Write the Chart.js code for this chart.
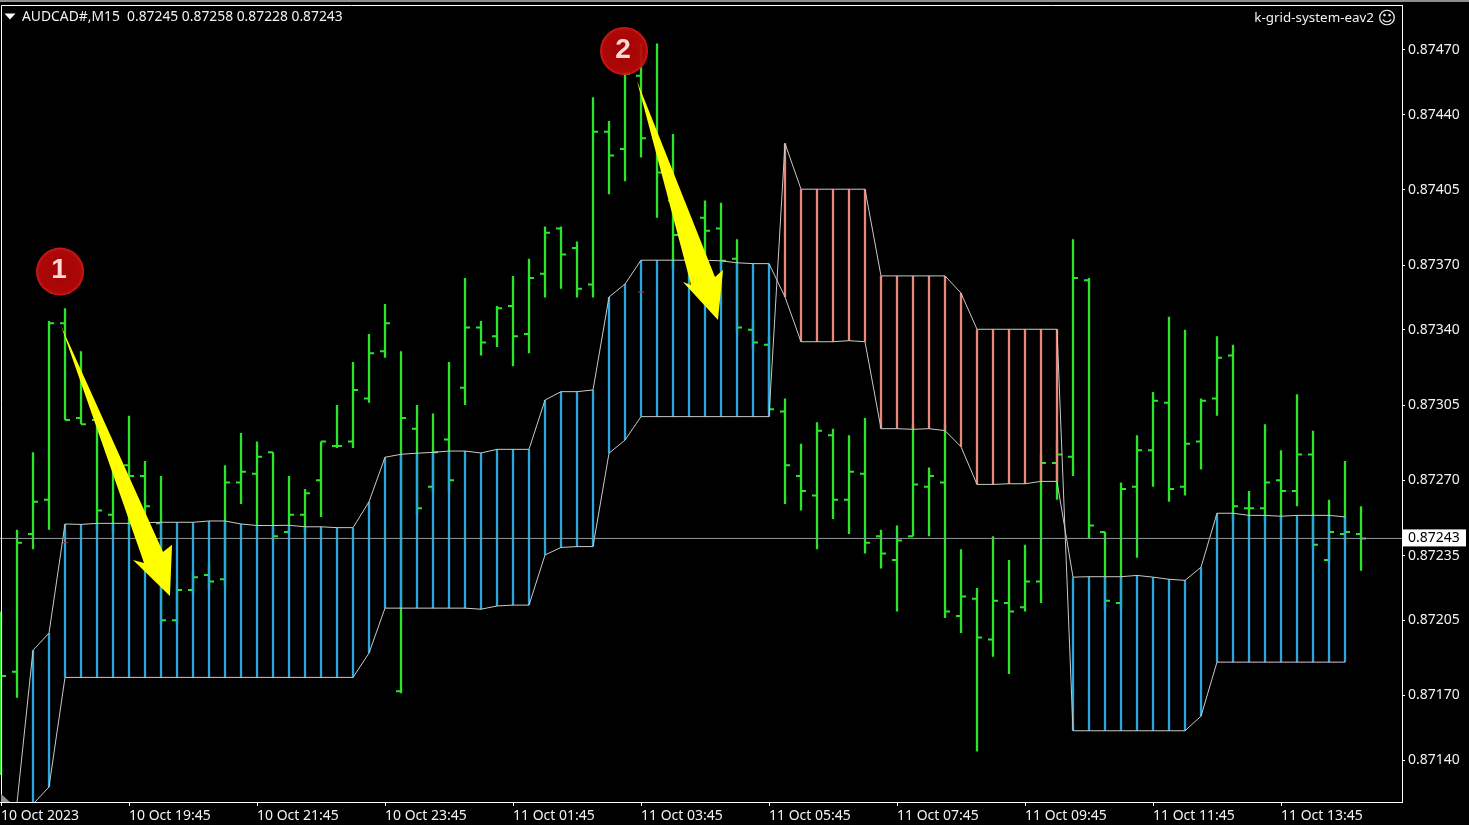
<!DOCTYPE html>
<html>
<head>
<meta charset="utf-8">
<title>AUDCAD#,M15</title>
<script src="https://cdn.jsdelivr.net/npm/chart.js@4/dist/chart.umd.js"></script>
<style>
  html, body { margin: 0; padding: 0; background: #000; overflow: hidden; }
  canvas { display: block; }
</style>
</head>
<body>
<canvas id="chart" width="1469" height="825"></canvas>
<script>
// OHLC of the 86 M15 bars, left to right
const opens = [
  0.87196,0.87181,0.87245,0.87261,0.87343,0.87299,0.87298,0.87254,0.87277,0.87272,
  0.87250,0.87205,0.87219,0.87226,0.87224,0.87269,0.87273,0.87283,0.87246,0.87254,
  0.87270,0.87286,0.87288,0.87308,0.87330,0.87172,0.87294,0.87267,0.87289,0.87313,
  0.87341,0.87337,0.87351,0.87338,0.87366,0.87387,0.87378,0.87361,0.87432,0.87424,
  0.87458,0.87429,0.87400,0.87379,0.87392,0.87387,0.87373,0.87340,0.87333,0.87302,
  0.87272,0.87263,0.87291,0.87261,0.87273,0.87244,0.87233,0.87244,0.87267,0.87269,
  0.87207,0.87215,0.87196,0.87213,0.87211,0.87223,0.87278,0.87281,0.87363,0.87246,
  0.87213,0.87267,0.87284,0.87306,0.87267,0.87288,0.87308,0.87328,0.87257,0.87257,
  0.87270,0.87265,0.87282,0.87233,0.87245,0.87245
];
const highs = [
  0.87209,0.87247,0.87283,0.87344,0.87350,0.87330,0.87298,0.87282,0.87300,0.87279,
  0.87272,0.87221,0.87228,0.87231,0.87277,0.87292,0.87288,0.87283,0.87272,0.87266,
  0.87288,0.87305,0.87325,0.87338,0.87352,0.87330,0.87305,0.87301,0.87325,0.87364,
  0.87344,0.87351,0.87365,0.87373,0.87388,0.87388,0.87381,0.87448,0.87437,0.87460,
  0.87473,0.87473,0.87431,0.87382,0.87400,0.87399,0.87382,0.87344,0.87337,0.87308,
  0.87287,0.87297,0.87294,0.87291,0.87299,0.87247,0.87249,0.87296,0.87276,0.87296,
  0.87238,0.87220,0.87244,0.87233,0.87240,0.87282,0.87289,0.87382,0.87364,0.87246,
  0.87269,0.87291,0.87311,0.87346,0.87340,0.87308,0.87337,0.87333,0.87265,0.87296,
  0.87284,0.87310,0.87293,0.87261,0.87279,0.87258
];
const lows = [
  0.87133,0.87169,0.87238,0.87247,0.87298,0.87296,0.87247,0.87245,0.87247,0.87247,
  0.87203,0.87203,0.87217,0.87219,0.87221,0.87259,0.87247,0.87242,0.87245,0.87245,
  0.87253,0.87285,0.87285,0.87306,0.87327,0.87171,0.87254,0.87265,0.87265,0.87305,
  0.87328,0.87332,0.87323,0.87329,0.87355,0.87359,0.87355,0.87355,0.87403,0.87409,
  0.87420,0.87392,0.87368,0.87368,0.87369,0.87368,0.87339,0.87331,0.87302,0.87259,
  0.87256,0.87238,0.87252,0.87245,0.87236,0.87229,0.87209,0.87244,0.87244,0.87206,
  0.87199,0.87144,0.87188,0.87180,0.87209,0.87213,0.87261,0.87272,0.87243,0.87210,
  0.87210,0.87234,0.87267,0.87260,0.87263,0.87275,0.87300,0.87251,0.87251,0.87251,
  0.87251,0.87258,0.87238,0.87232,0.87242,0.87228
];
const closes = [
  0.87179,0.87241,0.87260,0.87343,0.87298,0.87296,0.87256,0.87279,0.87272,0.87258,
  0.87205,0.87219,0.87225,0.87223,0.87269,0.87274,0.87281,0.87244,0.87254,0.87264,
  0.87288,0.87286,0.87312,0.87329,0.87343,0.87299,0.87257,0.87283,0.87270,0.87341,
  0.87334,0.87350,0.87337,0.87364,0.87385,0.87375,0.87359,0.87432,0.87421,0.87459,
  0.87429,0.87413,0.87384,0.87376,0.87386,0.87372,0.87341,0.87334,0.87303,0.87277,
  0.87265,0.87293,0.87261,0.87274,0.87241,0.87236,0.87242,0.87268,0.87272,0.87209,
  0.87216,0.87197,0.87214,0.87209,0.87223,0.87278,0.87282,0.87364,0.87249,0.87214,
  0.87266,0.87284,0.87307,0.87266,0.87287,0.87307,0.87327,0.87258,0.87257,0.87269,
  0.87265,0.87282,0.87240,0.87246,0.87246,0.87243
];

// The two indicator lines. Blue histogram where A is above B, salmon where it is below
const lineA = [
  null,0.87120,0.87191,0.87199,0.872497,0.872495,0.87250,0.87250,0.87250,0.872503,
  0.872505,0.872505,0.872505,0.872511,0.872511,0.872497,0.87249,0.87249,0.872491,0.872484,
  0.872484,0.87248,0.87248,0.87260,0.872807,0.872821,0.872826,0.87283,0.872836,0.872836,
  0.872827,0.872844,0.872844,0.872844,0.873073,0.873112,0.873112,0.87312,0.873552,0.873612,
  0.873723,0.873723,0.873723,0.873723,0.873723,0.87372,0.873711,0.873707,0.873707,0.873552,
  0.873344,0.873344,0.873344,0.873349,0.873344,0.87294,0.87294,0.872937,0.87294,0.872931,
  0.872856,0.872681,0.872681,0.872684,0.872684,0.872695,0.872695,0.87225,0.872252,0.872252,
  0.872252,0.872258,0.87225,0.87224,0.872235,0.872296,0.872547,0.872547,0.872537,0.872537,
  0.872533,0.872537,0.872537,0.872537,0.87253,null
];
const lineB = [
  null,null,0.871195,0.871275,0.871784,0.871784,0.871784,0.871784,0.871784,0.871784,
  0.871784,0.871784,0.871784,0.871784,0.871784,0.871784,0.871784,0.871784,0.871784,0.871784,
  0.871784,0.871784,0.871784,0.871897,0.872106,0.872106,0.872106,0.872106,0.872106,0.872106,
  0.872101,0.872116,0.87212,0.87212,0.872353,0.872388,0.872392,0.872392,0.872826,0.872887,
  0.872996,0.872996,0.872996,0.872996,0.872996,0.872996,0.872996,0.872996,0.872996,0.874266,
  0.874053,0.874053,0.874053,0.874053,0.874053,0.87365,0.87365,0.87365,0.87365,0.87365,
  0.87357,0.873402,0.873402,0.873402,0.873402,0.873402,0.873402,0.871536,0.871536,0.871536,
  0.871536,0.871536,0.871536,0.871536,0.871536,0.871604,0.871855,0.871855,0.871855,0.871855,
  0.871855,0.871855,0.871855,0.871855,0.871855,null
];

// Tiny red dashes sitting on the histogram
const dashBars = [4, 40];
const dashPrices = [0.87241, 0.873575];

const xTickBars = [0, 8, 16, 24, 32, 40, 48, 56, 64, 72, 80];
const xTickLabels = [
  '10 Oct 2023', '10 Oct 19:45', '10 Oct 21:45', '10 Oct 23:45', '11 Oct 01:45', '11 Oct 03:45',
  '11 Oct 05:45', '11 Oct 07:45', '11 Oct 09:45', '11 Oct 11:45', '11 Oct 13:45'
];
const yTickPrices = [0.87470, 0.87440, 0.87405, 0.87370, 0.87340, 0.87305, 0.87270, 0.87235, 0.87205, 0.87170, 0.87140];
const lastPrice = 0.87243;

// Hand-drawn markups, as [bar, price]
const arrowOne = [[3.75,0.873418],[10.125,0.872367],[10.69,0.87240],[10.56,0.872162],[8.25,0.87233],[8.94,0.872316]];
const arrowTwo = [[39.75,0.874556],[44.625,0.873645],[45.125,0.873677],[44.81,0.873445],[42.625,0.873622],[43.13,0.873608]];
const badges = [
  { label: '1', bar: 3.69, price: 0.87367 },
  { label: '2', bar: 38.94, price: 0.874695 }
];

const headerText = 'AUDCAD#,M15  0.87245 0.87258 0.87228 0.87243';
const expertText = 'k-grid-system-eav2';

const FONT = '"Noto Sans", sans-serif';
const GREEN = '#2be52b';
const BLUE = '#2ba6dc';
const SALMON = '#e8877b';

// every stroke goes in one dataset, a null point breaks the line
function wickPoints() {
  const pts = [];
  highs.forEach((h, i) => pts.push({ x: i, y: lows[i] }, { x: i, y: h }, { x: i, y: null }));
  return pts;
}
function tickPoints(values, from, to) {
  const pts = [];
  values.forEach((v, i) => pts.push({ x: i + from, y: v }, { x: i + to, y: v }, { x: i, y: null }));
  return pts;
}
function histPoints(wantBlue) {
  const pts = [];
  lineA.forEach((a, i) => {
    const b = lineB[i];
    if (a === null || b === null || (a > b) !== wantBlue) return;
    pts.push({ x: i, y: a }, { x: i, y: b }, { x: i, y: null });
  });
  return pts;
}
function linePoints(values) {
  return values.map((v, i) => ({ x: i, y: v }));
}
function dashPoints() {
  const pts = [];
  dashBars.forEach((bar, k) => {
    pts.push({ x: bar - 0.2, y: dashPrices[k] }, { x: bar + 0.2, y: dashPrices[k] }, { x: bar, y: null });
  });
  return pts;
}
function strokeSet(data, color, width, order) {
  return { data, borderColor: color, borderWidth: width, order, pointRadius: 0, tension: 0, spanGaps: false, borderCapStyle: 'butt' };
}
// the plot has to fill its box exactly, no room for the outer tick labels
function noScalePadding(scale) {
  scale.paddingTop = 0;
  scale.paddingBottom = 0;
  scale.paddingLeft = 0;
  scale.paddingRight = 0;
}

// black background, frame, markups and the texts MT4 prints on the chart
const decor = {
  id: 'decor',
  beforeDraw(chart) {
    const ctx = chart.ctx;
    ctx.fillStyle = '#000';
    ctx.fillRect(0, 0, chart.width, chart.height);
    ctx.fillStyle = '#8e8e8e';
    ctx.fillRect(0, 0, chart.width, 2);
  },
  afterDraw(chart) {
    const ctx = chart.ctx;
    const xs = chart.scales.x;
    const ys = chart.scales.y;
    const area = chart.chartArea;

    ctx.save();
    ctx.strokeStyle = '#fff';
    ctx.lineWidth = 1;
    ctx.beginPath();
    ctx.moveTo(1.5, area.bottom);
    ctx.lineTo(1.5, area.top + 0.5);
    ctx.lineTo(area.right + 0.5, area.top + 0.5);
    ctx.lineTo(area.right + 0.5, area.bottom + 0.5);
    ctx.moveTo(0, area.bottom + 0.5);
    ctx.lineTo(area.right + 0.5, area.bottom + 0.5);
    ctx.stroke();

    // shift marker, bottom left corner
    ctx.fillStyle = '#8a949c';
    ctx.beginPath();
    ctx.moveTo(1, area.bottom - 8);
    ctx.lineTo(10, area.bottom);
    ctx.lineTo(1, area.bottom);
    ctx.fill();

    [arrowOne, arrowTwo].forEach(arrow => {
      ctx.fillStyle = '#ffff00';
      ctx.beginPath();
      arrow.forEach(([bar, price], k) => {
        const px = xs.getPixelForValue(bar);
        const py = ys.getPixelForValue(price);
        if (k === 0) ctx.moveTo(px, py); else ctx.lineTo(px, py);
      });
      ctx.closePath();
      ctx.fill();
    });

    badges.forEach(b => {
      const cx = xs.getPixelForValue(b.bar);
      const cy = ys.getPixelForValue(b.price);
      const grad = ctx.createRadialGradient(cx, cy, 4, cx, cy, 24);
      grad.addColorStop(0, 'rgba(176,6,6,0.93)');
      grad.addColorStop(0.85, 'rgba(186,8,8,0.93)');
      grad.addColorStop(1, '#d21c1c');
      ctx.fillStyle = grad;
      ctx.beginPath();
      ctx.arc(cx, cy, 24, 0, Math.PI * 2);
      ctx.fill();
      ctx.fillStyle = '#ffd9d4';
      ctx.font = 'bold 28px "Liberation Sans", sans-serif';
      ctx.textAlign = 'center';
      ctx.textBaseline = 'middle';
      ctx.fillText(b.label, cx - 1, cy - 1);
    });

    // top left header with its little triangle
    ctx.fillStyle = '#fff';
    ctx.beginPath();
    ctx.moveTo(4.5, 13.5);
    ctx.lineTo(15.5, 13.5);
    ctx.lineTo(10, 19.5);
    ctx.fill();
    ctx.font = '13.85px ' + FONT;
    ctx.textAlign = 'left';
    ctx.textBaseline = 'middle';
    ctx.fillStyle = '#f2f2f2';
    ctx.fillText(headerText, 22, 17);

    ctx.font = '13.4px ' + FONT;
    ctx.textAlign = 'right';
    ctx.fillText(expertText, 1374, 18);
    ctx.font = '18px "DejaVu Sans", sans-serif';
    ctx.textAlign = 'center';
    ctx.fillText('\u263A', 1387, 19);

    // box around the last price on the axis
    const lastY = ys.getPixelForValue(lastPrice);
    ctx.fillStyle = '#fff';
    ctx.fillRect(area.right + 1, lastY - 9, 63, 17);
    ctx.fillStyle = '#000';
    ctx.font = '14px ' + FONT;
    ctx.textAlign = 'left';
    ctx.fillText(lastPrice.toFixed(5), 1408, lastY);
    ctx.restore();
  }
};

new Chart(document.getElementById('chart').getContext('2d'), {
  type: 'line',
  data: {
    datasets: [
      strokeSet([{ x: -0.0625, y: lastPrice }, { x: 87.5625, y: lastPrice }], '#8f9a9c', 1, 1),
      strokeSet(linePoints(lineA), '#c9c9c9', 1, 2),
      strokeSet(linePoints(lineB), '#c9c9c9', 1, 3),
      strokeSet(dashPoints(), '#a83232', 1, 4),
      strokeSet(histPoints(true), BLUE, 2.3, 5),
      strokeSet(histPoints(false), SALMON, 2.3, 6),
      strokeSet(tickPoints(closes, 0, 0.3125), GREEN, 2, 7),
      strokeSet(tickPoints(opens, -0.3125, 0), GREEN, 2, 8),
      strokeSet(wickPoints(), GREEN, 2.3, 9)
    ]
  },
  options: {
    responsive: false,
    animation: false,
    events: [],
    layout: { padding: { top: 5, left: 0, right: 0, bottom: 0 } },
    plugins: { legend: { display: false }, tooltip: { enabled: false } },
    scales: {
      x: {
        type: 'linear',
        min: -0.0625,
        max: 87.5625,
        afterBuildTicks: scale => { scale.ticks = xTickBars.map(v => ({ value: v })); },
        afterFit: scale => { scale.height = 23; noScalePadding(scale); },
        border: { color: '#fff' },
        grid: { drawOnChartArea: false, color: '#fff', tickLength: 4 },
        ticks: {
          autoSkip: false,
          maxRotation: 0,
          align: 'start',
          padding: 2,
          color: '#f2f2f2',
          font: { family: FONT, size: 14 },
          callback: (value, index) => xTickLabels[index]
        }
      },
      y: {
        position: 'right',
        min: 0.871205,
        max: 0.874909,
        afterBuildTicks: scale => { scale.ticks = yTickPrices.map(v => ({ value: v })); },
        afterFit: scale => { scale.width = 67; noScalePadding(scale); },
        border: { color: '#fff' },
        grid: { drawOnChartArea: false, color: '#fff', tickLength: 3 },
        ticks: {
          autoSkip: false,
          padding: 3,
          color: '#f2f2f2',
          font: { family: FONT, size: 14 },
          callback: value => value.toFixed(5)
        }
      }
    }
  },
  plugins: [decor]
});
</script>
</body>
</html>
